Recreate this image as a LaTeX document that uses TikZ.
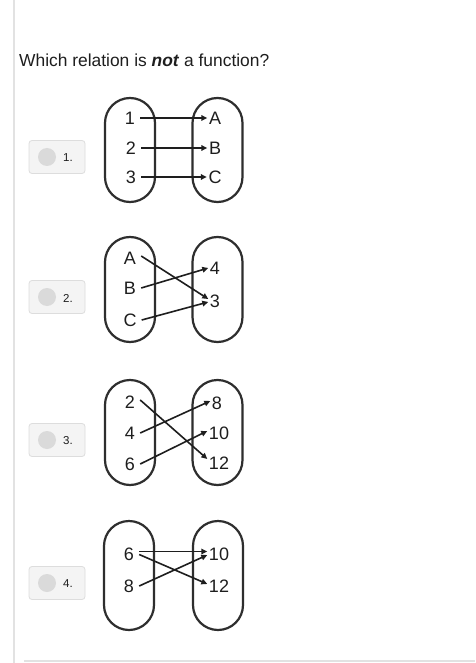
\documentclass[tikz,border=0pt]{standalone}
\usepackage{fontspec}
\setmainfont{Liberation Sans}
\usetikzlibrary{arrows.meta}
\definecolor{ink}{HTML}{1E1E1E}
\definecolor{oval}{HTML}{2E2E2E}
\definecolor{rule}{HTML}{E2E2E2}
\definecolor{btnfill}{HTML}{F4F4F4}
\definecolor{btnline}{HTML}{DDDDDD}
\definecolor{dot}{HTML}{DADADA}
\begin{document}
\begin{tikzpicture}[x=1pt,y=-1pt,
  setbox/.style={draw=oval, line width=2.2pt, minimum width=50pt, minimum height=104pt, rounded corners=25pt, inner sep=0pt},
  lab/.style={text=ink, font=\fontsize{18}{20}\selectfont, inner xsep=5pt, inner ysep=1pt},
  rlab/.style={text=ink, font=\fontsize{18}{20}\selectfont, inner xsep=1.5pt, inner ysep=1pt},
  arr/.style={draw=ink, line width=1.6pt, -{Triangle[length=6pt,width=5.5pt]}},
  btn/.style={draw=btnline, fill=btnfill, line width=0.8pt, rounded corners=3pt, minimum width=56pt, minimum height=33pt, inner sep=0pt},
  btndot/.style={circle, fill=dot, minimum size=18pt, inner sep=0pt},
  btntext/.style={text=ink, font=\fontsize{11.5}{13}\selectfont, inner sep=0pt}
]
\useasboundingbox[fill=white] (0,0) rectangle (475,663);
\fill[rule] (13,0) rectangle (15,663);
\fill[rule] (24,660) rectangle (475,662);
\node[anchor=west, text=ink, font=\fontsize{17.4}{20}\selectfont, inner sep=0pt] (title) at (19,60) {Which relation is \textbf{\textit{not}} a function?};

% buttons
\foreach \i/\y in {1/157,2/297,3/440,4/583}{
  \node[btn] (btn\i) at (57,\y) {};
  \node[btndot] (dot\i) at (47,\y) {};
  \node[btntext] (num\i) at (68,\y+1) {\i.};
}

% diagram 1
\node[setbox] (L1) at (130,150) {};
\node[setbox] (R1) at (217.5,150) {};
\node[lab] (a1) at (130,118) {1};
\node[lab] (a2) at (131,148) {2};
\node[lab] (a3) at (131,177) {3};
\node[rlab] (b1) at (215,118) {A};
\node[rlab] (b2) at (215,148) {B};
\node[rlab] (b3) at (215,177) {C};
\draw[arr] (a1.east) -- (b1.west);
\draw[arr] (a2.east) -- (b2.west);
\draw[arr] (a3.east) -- (b3.west);

% diagram 2
\node[setbox, minimum height=105pt] (L2) at (130,289.5) {};
\node[setbox, minimum height=105pt] (R2) at (217.5,289.5) {};
\node[lab] (c1) at (130,258) {A};
\node[lab] (c2) at (130,288) {B};
\node[lab] (c3) at (130,320) {C};
\node[rlab] (d1) at (215,268) {4};
\node[rlab] (d2) at (215,301) {3};
\draw[arr] ([yshift=2pt]c1.east) -- ([yshift=2pt]d2.west);
\draw[arr] (c2.east) -- (d1.west);
\draw[arr] (c3.east) -- ([yshift=-1pt]d2.west);

% diagram 3
\node[setbox, minimum height=105pt] (L3) at (130,432.5) {};
\node[setbox, minimum height=105pt] (R3) at (217.5,432.5) {};
\node[lab] (e1) at (130,402) {2};
\node[lab] (e2) at (130,433) {4};
\node[lab] (e3) at (130,464) {6};
\node[rlab] (f1) at (217,403) {8};
\node[rlab] (f2) at (219,433) {10};
\node[rlab] (f3) at (219,463) {12};
\draw[arr] ([yshift=2pt]e1.east) -- ([yshift=4pt]f3.west);
\draw[arr] (e2.east) -- ([yshift=2pt]f1.west);
\draw[arr] (e3.east) -- ([yshift=2pt]f2.west);

% diagram 4
\node[setbox, minimum height=109pt] (L4) at (129,575.5) {};
\node[setbox, minimum height=109pt] (R4) at (218,575.5) {};
\node[lab] (g1) at (129,554) {6};
\node[lab] (g2) at (129,586) {8};
\node[rlab] (h1) at (219,554) {10};
\node[rlab] (h2) at (219,586) {12};
\draw[arr] ([yshift=2.5pt]g1.east) -- ([yshift=2.5pt]h1.west);
\draw[arr] ([yshift=-0.5pt]g1.east) -- ([yshift=2pt]h2.west);
\draw[arr] (g2.east) -- ([yshift=-1pt]h1.west);
\end{tikzpicture}
\end{document}
